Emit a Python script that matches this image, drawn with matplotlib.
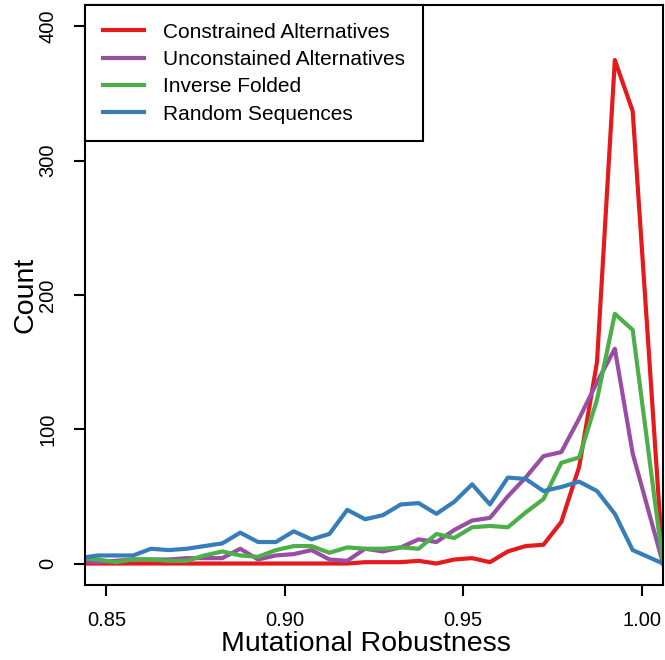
import numpy as np
import matplotlib
matplotlib.use("Agg")
import matplotlib.pyplot as plt

plt.rcParams["font.family"] = ["Liberation Sans", "DejaVu Sans"]

# bin centres (first and last points sit outside the visible range)
x_mid = [0.8425 + 0.005 * k for k in range(32)]
x_vals = x_mid + [1.006]

constrained = [0, 0, 0, 0, 0, 0, 0, 0, 0, 0, 0, 0, 0, 0, 0, 0, 1,
               1, 1, 2, 0, 3, 4, 1, 9, 13, 14, 31, 72, 150, 375, 337, 0]
unconstrained = [2, 1, 2, 3, 3, 3, 4, 4, 4, 11, 3, 6, 7, 10, 3, 2, 11,
                 9, 12, 18, 16, 25, 32, 34, 50, 64, 80, 83, 108, 135, 160, 82, 0]
inverse_folded = [4, 3, 1, 3, 3, 2, 2, 6, 9, 6, 5, 10, 13, 13, 8, 12, 11,
                  11, 12, 11, 22, 19, 27, 28, 27, 38, 48, 75, 79, 122, 186, 174, 0]
random_seqs = [4, 6, 6, 6, 11, 10, 11, 13, 15, 23, 16, 16, 24, 18, 22, 40, 33,
               36, 44, 45, 37, 46, 59, 44, 64, 63, 54, 57, 61, 54, 37, 10, 0]

series = [
    ("Constrained Alternatives", constrained, "#E41A1C"),
    ("Unconstained Alternatives", unconstrained, "#984EA3"),
    ("Inverse Folded", inverse_folded, "#4DAF4A"),
    ("Random Sequences", random_seqs, "#377EB8"),
]

x_ticks = [0.85, 0.90, 0.95, 1.00]
y_ticks = [0, 100, 200, 300, 400]

fig = plt.figure(figsize=(6.65, 6.6), dpi=100)
ax = fig.add_axes([85 / 665, 1 - 585 / 660, 578 / 665, 580 / 660])

for name, vals, col in series:
    ax.plot(x_vals, vals, color=col, lw=3, label=name)

ax.set_xlim(0.85 - 0.006, 1.00 + 0.006)
ax.set_ylim(-16, 416)
ax.set_xticks(x_ticks)
ax.set_xticklabels([f"{t:.2f}" for t in x_ticks])
ax.set_yticks(y_ticks)
ax.set_yticklabels([str(t) for t in y_ticks], rotation=90, va="center")

for s in ax.spines.values():
    s.set_linewidth(1.5)
ax.tick_params(direction="out", length=8, width=1.5, labelsize=14.5)
ax.tick_params(axis="x", pad=11)
ax.tick_params(axis="y", pad=12)

ax.set_xlabel("Mutational Robustness", fontsize=20.5, va="center")
ax.set_ylabel("Count", fontsize=20.5, va="center")
ax.xaxis.set_label_coords((366 - 85) / 578, -(644 - 585) / 580)
ax.yaxis.set_label_coords(-(85 - 25) / 578, 0.5)

leg = ax.legend(loc="upper left", borderaxespad=0, fontsize=15,
                handlelength=2.0, handletextpad=0.9, labelspacing=0.4,
                borderpad=0.85, fancybox=False, framealpha=1)
leg.get_frame().set_edgecolor("black")
leg.get_frame().set_linewidth(1.5)
for line in leg.get_lines():
    line.set_linewidth(3)

fig.savefig("out.png", dpi=100)
